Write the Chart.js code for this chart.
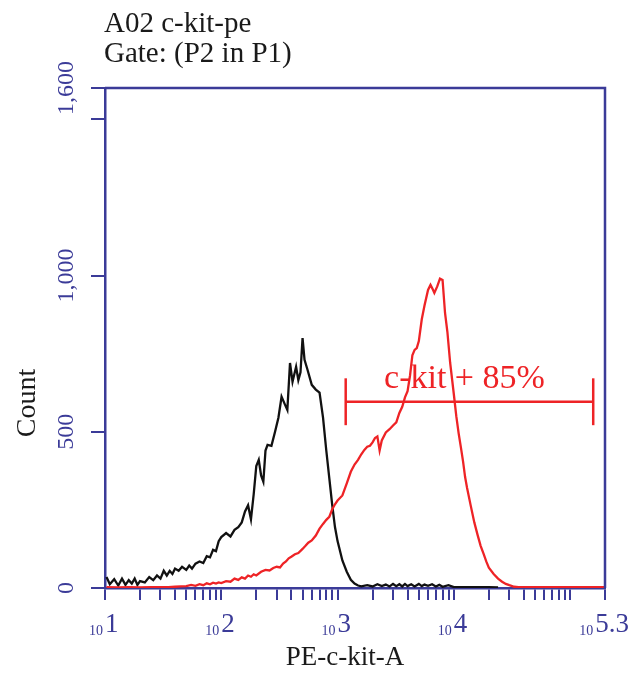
<!DOCTYPE html>
<html>
<head>
<meta charset="utf-8">
<script src="https://cdn.jsdelivr.net/npm/chart.js@4.4.0/dist/chart.umd.min.js"></script>
<style>
  html, body { margin: 0; padding: 0; background: #fff; }
  #c { display: block; }
</style>
</head>
<body>
<canvas id="c" width="631" height="675"></canvas>
<script>
// histogram data: PE fluorescence (bin value) vs event count
const isoX = [10.3, 11, 12, 13, 14, 15, 16, 17, 18, 19, 20, 22, 24, 26, 28, 30, 32, 34, 36, 38, 40, 43, 46, 50, 53, 56, 60, 65, 70, 75, 80, 85, 90, 95,
  100, 110, 120, 130, 140, 150, 160, 170, 180, 190, 200, 210, 220, 230, 240, 250, 270, 290, 310, 330, 350, 370, 390, 410, 440, 460, 480,
  500, 520, 550, 600, 650, 700, 750, 800, 850, 900, 950,
  1000, 1100, 1200, 1300, 1400, 1500, 1600, 1800, 2000, 2200, 2400, 2600, 2800, 3000, 3200, 3400, 3600, 3800, 4000, 4300, 4600,
  5000, 5300, 5600, 6000, 6500, 7000, 7500, 8000, 9000, 10000, 13000, 16000, 20000, 24000];
const isoY = [35, 12, 28, 8, 30, 10, 25, 14, 30, 10, 22, 18, 35, 25, 40, 30, 55, 40, 55, 45, 62, 55, 68, 58, 72, 62, 78, 85, 80, 102, 98, 122, 118, 150,
  163, 176, 165, 186, 195, 210, 245, 265, 220, 300, 390, 410, 360, 340, 440, 458, 455, 500, 545, 612, 590, 570, 720, 660, 708, 665, 690,
  800, 730, 700, 650, 635, 625, 545, 440, 350, 265, 195,
  150, 88, 52, 26, 14, 8, 5, 9, 5, 12, 6, 11, 5, 13, 6, 12, 5, 13, 6, 12, 5,
  13, 6, 11, 7, 12, 5, 10, 4, 9, 3, 3, 3, 3, 2];

const kitX = [10.3, 13, 16, 20, 25, 30, 35, 40, 45, 50, 55, 60, 65, 70, 75, 80, 85, 90, 95,
  100, 110, 120, 130, 140, 150, 160, 170, 180, 190, 200, 220, 240, 260, 280, 300, 320, 340, 360, 380, 400, 430, 460,
  500, 530, 560, 600, 650, 700, 750, 800, 850, 900, 950,
  1000, 1100, 1200, 1300, 1400, 1500, 1600, 1700, 1800, 1900, 2000, 2100, 2200, 2300, 2400, 2600, 2800, 3000, 3200, 3400, 3600, 3800,
  4000, 4200, 4400, 4600, 4800, 5000, 5300, 5600, 6000, 6300, 6600, 6800, 7200, 7600, 8000, 8400, 8800, 9300,
  10000, 10500, 11000, 11500, 12000, 12500, 13000, 14000, 15000, 16000, 17000, 18000, 19000, 20000, 22000, 24000, 26000, 28000,
  30000, 33000, 36000, 40000, 50000, 60000, 70000, 80000, 90000, 100000, 130000, 160000, 199000];
const kitY = [3, 2, 3, 2, 3, 3, 3, 4, 5, 6, 10, 7, 12, 9, 15, 12, 17, 14, 18,
  16, 22, 20, 30, 26, 34, 30, 40, 36, 44, 40, 52, 58, 56, 64, 68, 66, 78, 85, 95, 100, 108, 112,
  125, 135, 145, 152, 168, 190, 205, 218, 228, 252, 268,
  280, 296, 335, 372, 395, 410, 428, 442, 452, 455, 466, 480, 485, 440, 472, 498, 508, 520, 530, 560, 580, 610,
  630, 680, 745, 762, 768, 790, 860, 905, 954, 970, 955, 944, 965, 990, 986, 880, 820, 720,
  620, 550, 495, 450, 405, 355, 320, 262, 210, 170, 135, 110, 85, 65, 45, 30, 20, 13,
  9, 4, 3, 3, 3, 3, 3, 3, 3, 3, 3, 3, 3];

// gate marker "c-kit + 85%"
const gateLo = 1175;
const gateHi = 158000;
const gateY = 596;
const gateHalf = 75;
const gateText = 'c-kit + 85%';

// axes
const xMin = 10;
const xMax = Math.pow(10, 5.3);
const xMajorValues = [10, 100, 1000, 10000, xMax];
const xExponents = ['1', '2', '3', '4', '5.3'];
const yTickValues = [0, 500, 1000, 1500, 1600];
const yTickLabels = ['0', '500', '1,000', '', '1,600'];

const titleLines = ['A02 c-kit-pe', 'Gate: (P2 in P1)'];
const xTitle = 'PE-c-kit-A';
const yTitle = 'Count';

const NAVY = '#3b3b98';
const RED = '#ee2326';
const SERIF = '"Liberation Serif", "Times New Roman", serif';

// minor log ticks 1..9 per decade
const xTickValues = [];
for (let d = 10; d < 100000; d *= 10) {
  for (let m = 1; m < 10; m++) xTickValues.push(m * d);
}
xTickValues.push(100000, xMax);

const pts = (xs, ys) => xs.map((v, i) => ({ x: v, y: ys[i] }));

const decorPlugin = {
  id: 'decor',
  afterDraw(chart) {
    const { ctx, chartArea: a, scales: { x, y } } = chart;
    ctx.save();
    // top + right frame
    ctx.strokeStyle = NAVY;
    ctx.lineWidth = 2.5;
    ctx.beginPath();
    ctx.moveTo(a.left, a.top);
    ctx.lineTo(a.right, a.top);
    ctx.lineTo(a.right, a.bottom);
    ctx.stroke();

    // y tick labels, rotated
    ctx.fillStyle = NAVY;
    ctx.font = '24px ' + SERIF;
    ctx.textAlign = 'center';
    ctx.textBaseline = 'alphabetic';
    yTickValues.forEach((v, i) => {
      if (!yTickLabels[i]) return;
      ctx.save();
      ctx.translate(73, y.getPixelForValue(v));
      ctx.rotate(-Math.PI / 2);
      ctx.fillText(yTickLabels[i], 0, 0);
      ctx.restore();
    });

    // x tick labels: small "10" + big exponent
    xMajorValues.forEach((v, i) => {
      let px = x.getPixelForValue(v);
      ctx.font = '27px ' + SERIF;
      const w = ctx.measureText(xExponents[i]).width;
      if (px + w > chart.width - 2) px = chart.width - 2 - w;
      ctx.textAlign = 'left';
      ctx.fillText(xExponents[i], px, 632);
      ctx.font = '14px ' + SERIF;
      ctx.textAlign = 'right';
      ctx.fillText('10', px - 2, 635);
    });

    // titles
    ctx.fillStyle = '#1a1a1a';
    ctx.font = '29px ' + SERIF;
    ctx.textAlign = 'left';
    ctx.fillText(titleLines[0], 104, 32);
    ctx.fillText(titleLines[1], 104, 62);
    ctx.font = '27px ' + SERIF;
    ctx.textAlign = 'center';
    ctx.fillText(xTitle, 345, 665);
    ctx.save();
    ctx.translate(35, 403);
    ctx.rotate(-Math.PI / 2);
    ctx.font = '28px ' + SERIF;
    ctx.fillText(yTitle, 0, 0);
    ctx.restore();

    // gate label
    const gx = (x.getPixelForValue(gateLo) + x.getPixelForValue(gateHi)) / 2 - 5;
    ctx.fillStyle = RED;
    ctx.font = '34px ' + SERIF;
    ctx.fillText(gateText, gx, y.getPixelForValue(gateY) - 14);
    ctx.restore();
  }
};

const axisGrid = (len) => ({
  drawOnChartArea: false,
  drawTicks: true,
  tickLength: len,
  color: NAVY,
  lineWidth: 2
});

new Chart(document.getElementById('c'), {
  type: 'line',
  data: {
    datasets: [
      { data: [{ x: gateLo, y: gateY }, { x: gateHi, y: gateY }], borderColor: RED, borderWidth: 2.5, order: 0 },
      { data: [{ x: gateLo, y: gateY - gateHalf }, { x: gateLo, y: gateY + gateHalf }], borderColor: RED, borderWidth: 2.5, order: 0 },
      { data: [{ x: gateHi, y: gateY - gateHalf }, { x: gateHi, y: gateY + gateHalf }], borderColor: RED, borderWidth: 2.5, order: 0 },
      { label: 'c-kit', data: pts(kitX, kitY), borderColor: RED, borderWidth: 2.3, order: 1 },
      { label: 'isotype', data: pts(isoX, isoY), borderColor: '#111', borderWidth: 2.3, order: 2 }
    ]
  },
  options: {
    responsive: false,
    animation: false,
    devicePixelRatio: 1,
    layout: { padding: { top: 88, right: 26, left: 0, bottom: 0 } },
    elements: { point: { radius: 0 }, line: { tension: 0, fill: false } },
    plugins: { legend: { display: false }, tooltip: { enabled: false } },
    scales: {
      x: {
        type: 'logarithmic',
        min: xMin,
        max: xMax,
        ticks: { display: false },
        grid: axisGrid(12),
        border: { color: NAVY, width: 2.5 },
        afterBuildTicks: (s) => { s.ticks = xTickValues.map(v => ({ value: v })); },
        afterFit: (s) => { s.height = 87; }
      },
      y: {
        type: 'linear',
        min: 0,
        max: 1600,
        ticks: { display: false },
        grid: axisGrid(14),
        border: { color: NAVY, width: 2.5 },
        afterBuildTicks: (s) => { s.ticks = yTickValues.map(v => ({ value: v })); },
        afterFit: (s) => { s.width = 105; }
      }
    }
  },
  plugins: [decorPlugin]
});
</script>
</body>
</html>
